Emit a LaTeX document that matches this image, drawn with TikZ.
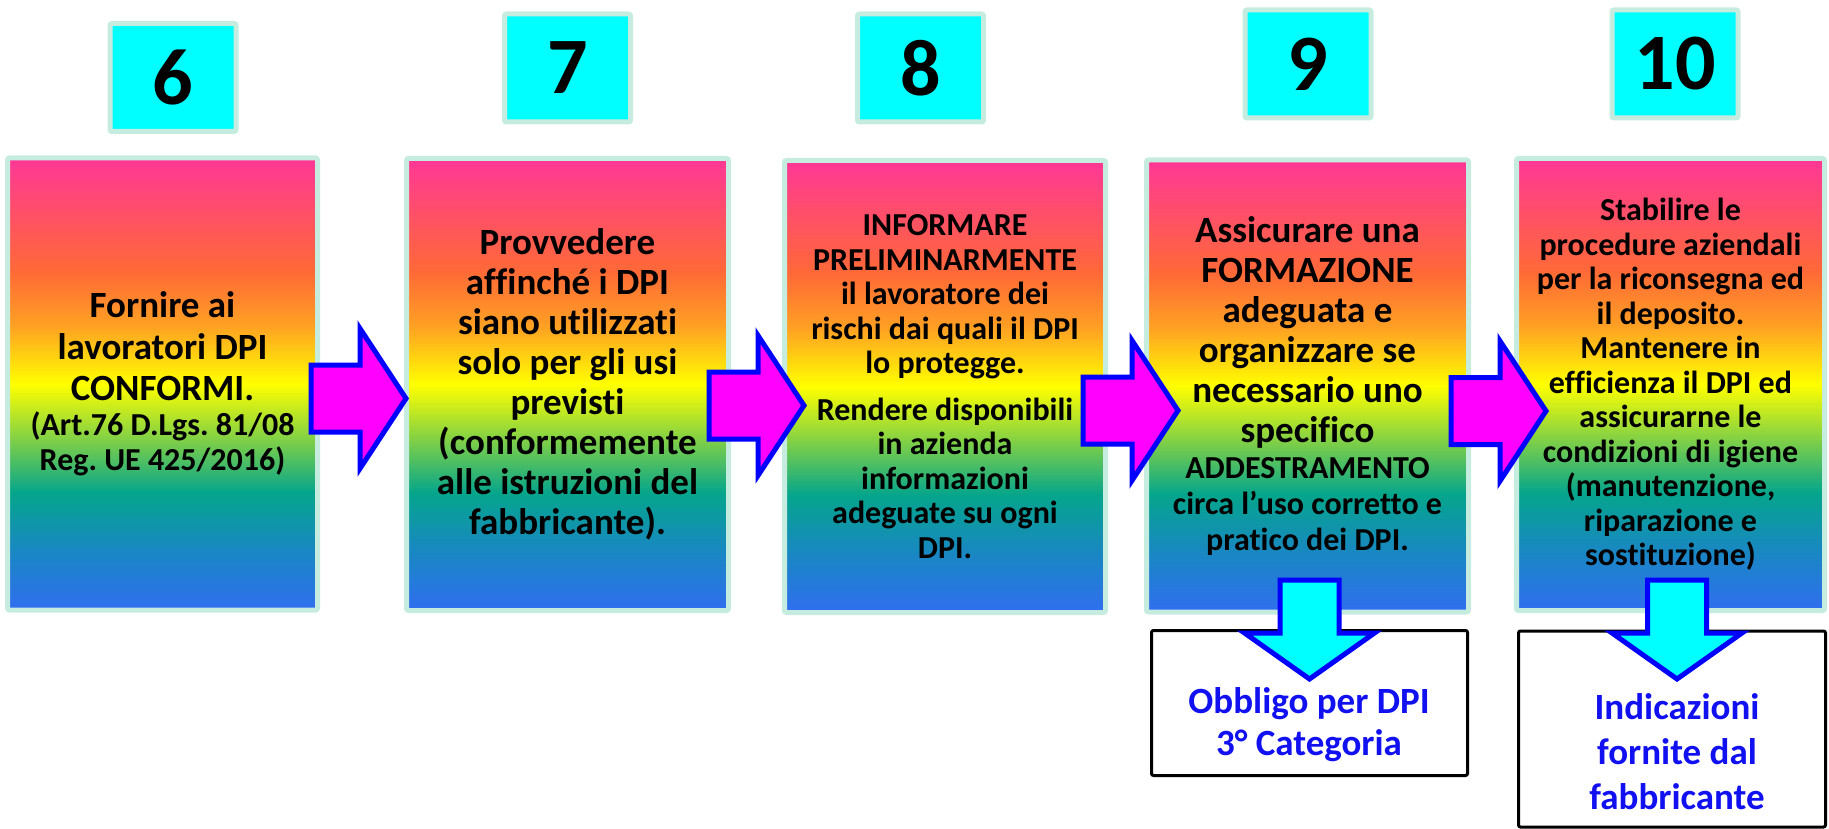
\documentclass[tikz,border=0pt]{standalone}
\usepackage{fontspec}
\setmainfont{Carlito}[Ligatures={TeX,NoCommon}]
\frenchspacing

% Colours
\definecolor{mintedge}{RGB}{198,236,224}
\definecolor{numcyan}{RGB}{0,255,255}
\definecolor{arrowblue}{RGB}{0,0,255}
\definecolor{arrowpink}{RGB}{255,0,255}
\definecolor{noteblue}{RGB}{16,16,240}
\definecolor{rbPink}{RGB}{255,55,150}
\definecolor{rbRed}{RGB}{255,105,55}
\definecolor{rbOrange}{RGB}{255,160,35}
\definecolor{rbYellow}{RGB}{255,255,0}
\definecolor{rbGreen}{RGB}{120,205,75}
\definecolor{rbTeal}{RGB}{5,165,140}
\definecolor{rbSky}{RGB}{25,135,195}
\definecolor{rbBlue}{RGB}{48,110,240}

% the path is fitted to the 25bp..75bp band of the shading
\pgfdeclareverticalshading{rainbowfill}{100bp}{%
  color(0bp)=(rbBlue); color(25bp)=(rbBlue); color(31.5bp)=(rbSky);
  color(38bp)=(rbTeal); color(43.5bp)=(rbGreen); color(50bp)=(rbYellow);
  color(56.5bp)=(rbOrange); color(62.5bp)=(rbRed); color(75bp)=(rbPink);
  color(100bp)=(rbPink)}

\tikzset{
  numbox/.style={draw=mintedge, line width=5pt, fill=numcyan, rounded corners=2pt,
    minimum width=126pt, minimum height=108pt, inner sep=0pt,
    font=\bfseries\fontsize{80}{80}\selectfont},
  stepbox/.style={draw=mintedge, line width=5pt, shading=rainbowfill,
    rounded corners=2pt, minimum height=452pt, inner sep=0pt,
    text width=300pt, align=flush center},
  bigtext/.style={font=\bfseries\fontsize{37}{40}\selectfont},
  smalltext/.style={font=\bfseries\fontsize{32}{34.5}\selectfont},
  blockarrow/.style={draw=arrowblue, line width=5pt, fill=arrowpink},
  downarrow/.style={draw=arrowblue, line width=5pt, fill=numcyan},
  notebox/.style={draw=black, line width=3pt, fill=white, rounded corners=2pt,
    inner sep=0pt},
  notetext/.style={text=noteblue, align=center, inner sep=0pt}
}

\begin{document}
\begin{tikzpicture}[x=1pt, y=-1pt]
  \useasboundingbox (0,0) rectangle (1829,829);

  % Number boxes
  \foreach \num/\nx/\ny in {6/173/77.5, 7/567.5/68, 8/920.5/68, 9/1308/64, 10/1675/64}
    \node[numbox] (num\num) at (\nx,\ny) {\num};

  % Step boxes
  \node[stepbox, bigtext, minimum width=310pt] (step6) at (162.5,384)
    {{\fontsize{37}{41.5}\selectfont Fornire ai\\lavoratori DPI\\CONFORMI.\par}
     {\fontsize{32}{35}\selectfont (Art.76 D.Lgs. 81/08\\Reg. UE 425/2016)\par}};
  \node[stepbox, bigtext, minimum width=322pt] (step7) at (567.5,384.5)
    {Provvedere\\affinché i DPI\\siano utilizzati\\solo per gli usi\\previsti\\(conformemente\\alle istruzioni del\\fabbricante).};
  \node[stepbox, smalltext, minimum width=321pt] (step8) at (945,386.5)
    {INFORMARE\\PRELIMINARMENTE\\il lavoratore dei\\rischi dai quali il DPI\\lo protegge.\par
     \vspace{12pt}Rendere disponibili\\in azienda\\informazioni\\adeguate su ogni\\DPI.};
  \node[stepbox, bigtext, minimum width=322pt] (step9) at (1307.5,386)
    {Assicurare una\\FORMAZIONE\\adeguata e\\organizzare se\\necessario uno\\specifico\par
     {\fontsize{32}{36}\selectfont ADDESTRAMENTO\\circa l’uso corretto e\\pratico dei DPI.\par}};
  \node[stepbox, smalltext, minimum width=308pt] (step10) at (1670.5,384.5)
    {Stabilire le\\procedure aziendali\\per la riconsegna ed\\il deposito.\\Mantenere in\\efficienza il DPI ed\\assicurarne le\\condizioni di igiene\\(manutenzione,\\riparazione e\\sostituzione)};

  % Notes under steps 9 and 10
  \node[notebox, minimum width=316pt, minimum height=145pt] (note9) at (1309.5,703) {};
  \node[notebox, minimum width=307pt, minimum height=196pt] (note10) at (1672,729) {};
  \node[notetext, font=\bfseries\fontsize{37}{42}\selectfont] (note9text) at (1309,725)
    {Obbligo per DPI\\3° Categoria};
  \node[notetext, font=\bfseries\fontsize{37}{45}\selectfont] (note10text) at (1677,752)
    {Indicazioni\\fornite dal\\fabbricante};

  % Block arrows between steps
  \foreach \ax/\ay in {311/398.5, 709/405.5, 1083/410.5, 1451/411}
    \draw[blockarrow] (\ax,\ay) ++(0,-33.5) -- ++(49,0) -- ++(0,-36.5) -- ++(46,70)
      -- ++(-46,70) -- ++(0,-36.5) -- ++(-49,0) -- cycle;

  % Down arrows into the notes
  \foreach \dx in {1309.5, 1677}
    \draw[downarrow] (\dx,580) ++(-29.5,0) -- ++(59,0) -- ++(0,53) -- ++(35.5,0)
      -- ++(-65,46) -- ++(-65,-46) -- ++(35.5,0) -- cycle;
\end{tikzpicture}
\end{document}
